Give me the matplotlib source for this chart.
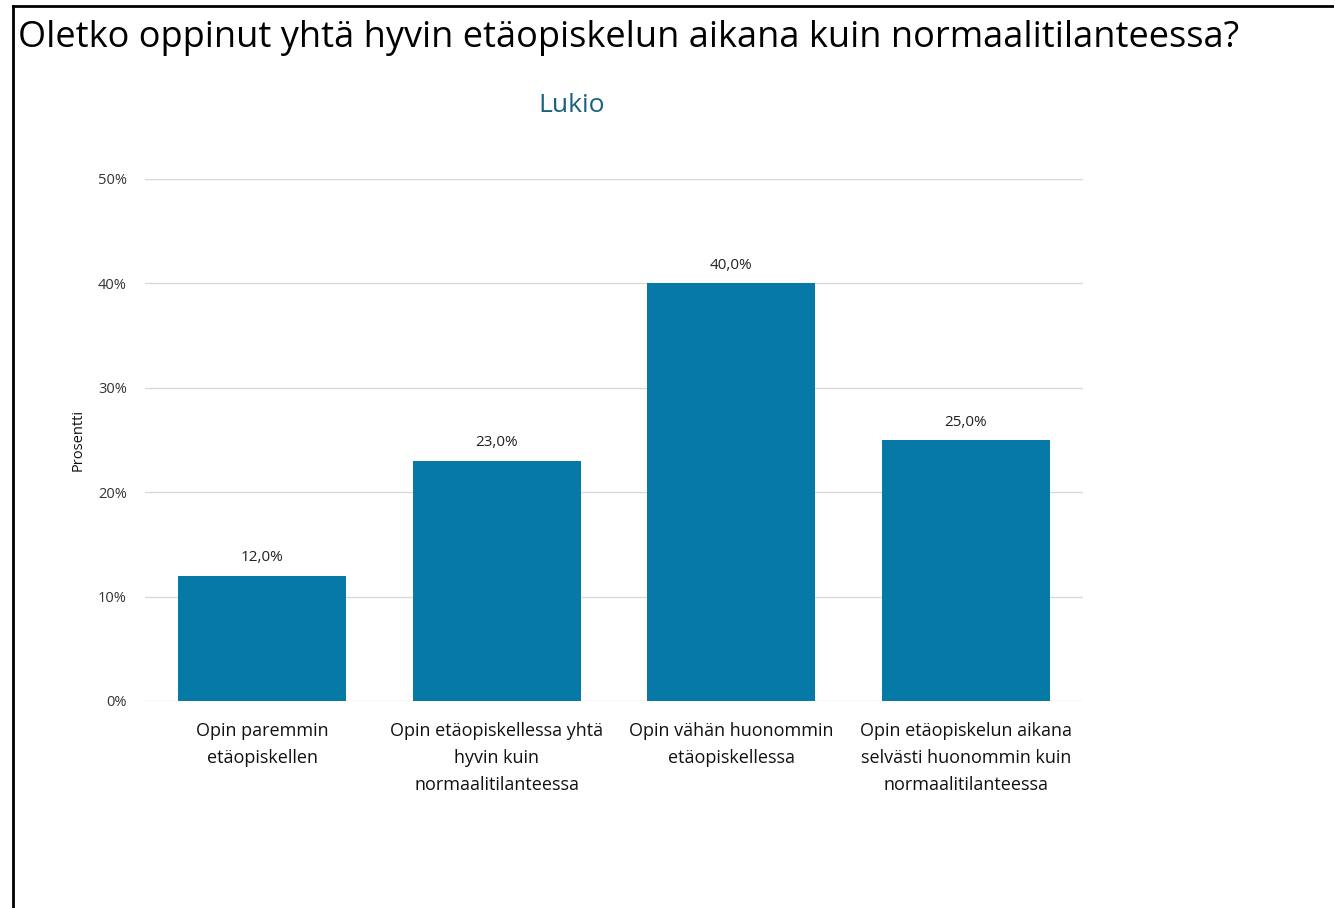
import numpy as np
import matplotlib.pyplot as plt
from matplotlib.lines import Line2D

# data
categories = ['Opin paremmin\netäopiskellen',
              'Opin etäopiskellessa yhtä\nhyvin kuin\nnormaalitilanteessa',
              'Opin vähän huonommin\netäopiskellessa',
              'Opin etäopiskelun aikana\nselvästi huonommin kuin\nnormaalitilanteessa']
values = [12.0, 23.0, 40.0, 25.0]
yticks = [0, 10, 20, 30, 40, 50]

plt.rcParams['font.family'] = ['Open Sans', 'DejaVu Sans']

fig = plt.figure(figsize=(13.34, 9.08), dpi=100)
ax = fig.add_axes([145/1334, 1-701/908, (1083-145)/1334, (701-179)/908])

x = np.arange(len(categories))
bars = ax.bar(x, values, width=0.716, color='#0779a6', zorder=3)
for xi, v in zip(x, values):
    ax.text(xi, v + 1.0, f'{v:.1f}'.replace('.', ',') + '%', ha='center', va='bottom',
            fontsize=11, color='#222222')

ax.set_xlim(-0.5, 3.5)
ax.set_ylim(0, 50)
ax.set_yticks(yticks)
ax.set_yticklabels([f'{t}%' for t in yticks], fontsize=10.5, color='#333333')
ax.set_xticks(x)
ax.set_xticklabels(categories, fontsize=13, color='#111111', linespacing=1.65)
ax.tick_params(axis='both', length=0)
ax.tick_params(axis='y', pad=13)
ax.tick_params(axis='x', pad=15)
ax.grid(axis='y', color='#d9d9d9', linewidth=1, zorder=0)
for s in ax.spines.values():
    s.set_visible(False)
ax.set_ylabel('Prosentti', fontsize=10.5, color='#111111', labelpad=9)

fig.text(18/1334, 1-38/908, 'Oletko oppinut yhtä hyvin etäopiskelun aikana kuin normaalitilanteessa?',
         fontsize=26, ha='left', va='center', color='black')
fig.text(572/1334, 1-105/908, 'Lukio', fontsize=19, ha='center', va='center', color='#1b6181')

# border lines on top and left
fig.add_artist(Line2D([13/1334, 1], [1-6/908, 1-6/908], color='black', linewidth=2))
fig.add_artist(Line2D([13/1334, 13/1334], [0, 1-6/908], color='black', linewidth=2))

plt.savefig('out.png', dpi=100)
